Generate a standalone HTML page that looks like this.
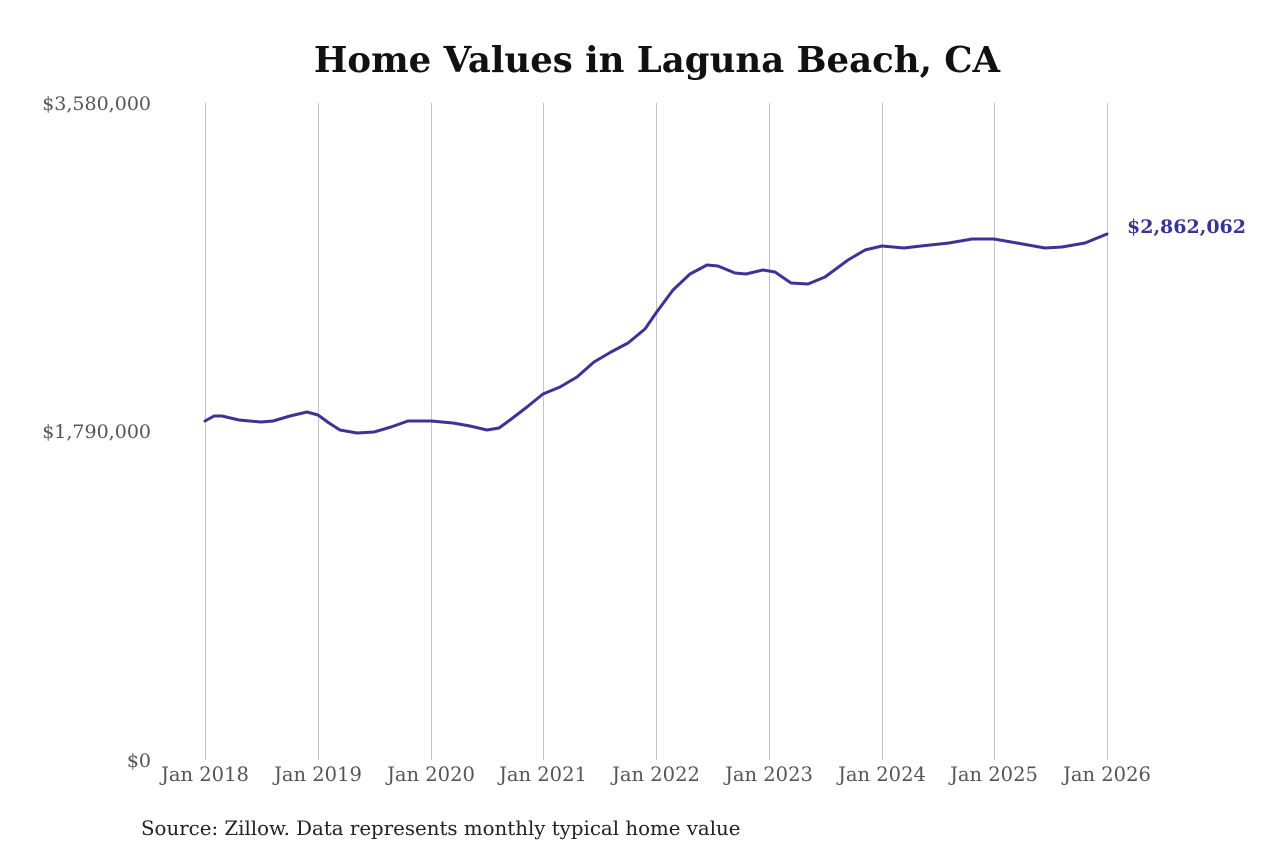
<!DOCTYPE html>
<html><head><meta charset="utf-8"><style>
html,body{margin:0;padding:0;background:#fff}
svg{display:block}
text{font-family:"DejaVu Serif","Liberation Serif",serif}
</style></head><body>
<svg width="1280" height="853" viewBox="0 0 1280 853">
<rect width="1280" height="853" fill="#fff"/>
<text x="657" y="72" text-anchor="middle" font-size="35.5" font-weight="bold" fill="#111">Home Values in Laguna Beach, CA</text>
<g stroke="#c4c4c4" stroke-width="1">
<line x1="205.5" y1="103" x2="205.5" y2="760"/>
<line x1="318.5" y1="103" x2="318.5" y2="760"/>
<line x1="431.5" y1="103" x2="431.5" y2="760"/>
<line x1="543.5" y1="103" x2="543.5" y2="760"/>
<line x1="656.5" y1="103" x2="656.5" y2="760"/>
<line x1="769.5" y1="103" x2="769.5" y2="760"/>
<line x1="882.5" y1="103" x2="882.5" y2="760"/>
<line x1="994.5" y1="103" x2="994.5" y2="760"/>
<line x1="1107.5" y1="103" x2="1107.5" y2="760"/>
</g>
<g font-size="19" fill="#555" text-anchor="end">
<text x="151" y="110">$3,580,000</text>
<text x="151" y="438">$1,790,000</text>
<text x="151" y="767">$0</text>
</g>
<g font-size="19.5" fill="#555" text-anchor="middle">
<text x="205" y="781">Jan 2018</text>
<text x="318" y="781">Jan 2019</text>
<text x="431" y="781">Jan 2020</text>
<text x="543" y="781">Jan 2021</text>
<text x="656" y="781">Jan 2022</text>
<text x="769" y="781">Jan 2023</text>
<text x="882" y="781">Jan 2024</text>
<text x="994" y="781">Jan 2025</text>
<text x="1107" y="781">Jan 2026</text>
</g>
<polyline fill="none" stroke="#3b3495" stroke-width="3" stroke-linejoin="round" stroke-linecap="round"
points="205,421 214,416 222,416 239,420 261,422 273,421 290,416 307,412 318,415 329,423 340,430 357,433 374,432 391,427 408,421 431,421 453,423 470,426 487,430 499,428 510,420 527,407 543,394 560,387 577,377 594,362 611,352 628,343 645,329 656,313 673,290 690,274 707,265 718,266 735,273 746,274 763,270 775,272 791,283 808,284 825,277 848,260 865,250 882,246 904,248 921,246 949,243 972,239 994,239 1017,243 1045,248 1062,247 1085,243 1107,234"/>
<text x="1127" y="233" font-size="19" font-weight="bold" fill="#3b3495">$2,862,062</text>
<text x="141" y="835" font-size="19.8" fill="#222">Source: Zillow. Data represents monthly typical home value</text>
</svg>
</body></html>
